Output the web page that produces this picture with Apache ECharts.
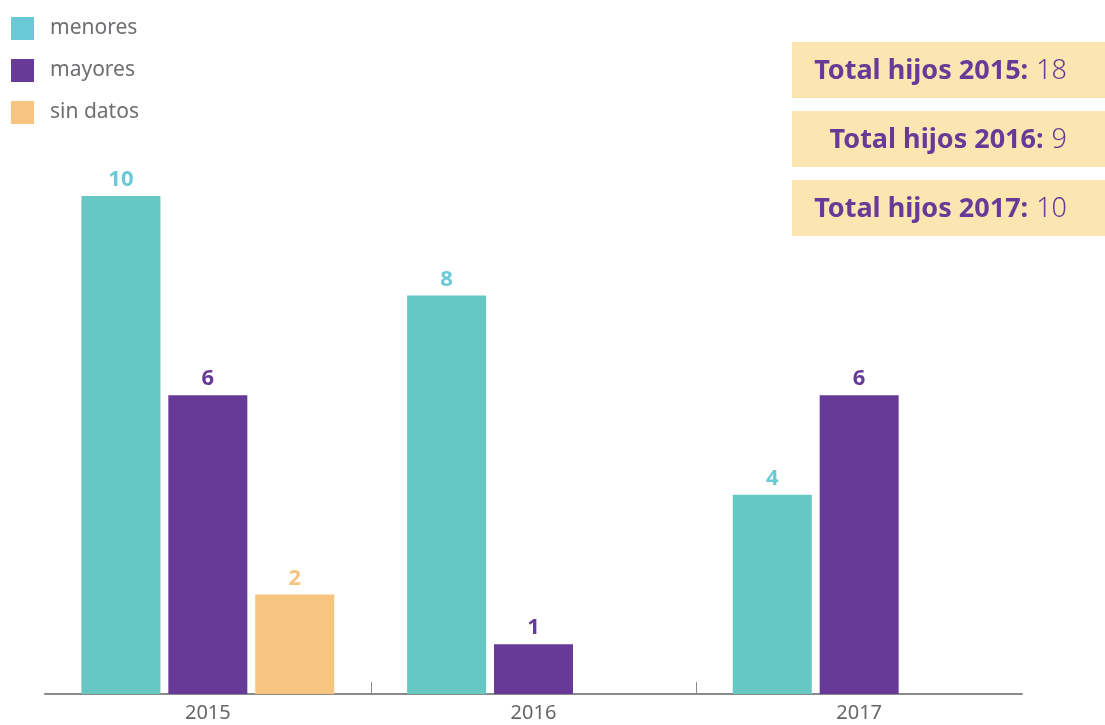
<!DOCTYPE html>
<html>
<head>
<meta charset="utf-8">
<script src="https://cdn.jsdelivr.net/npm/echarts@6/dist/echarts.min.js"></script>
<style>
  html, body { margin: 0; padding: 0; background: #ffffff; }
  #chart { width: 1105px; height: 725px; }
</style>
</head>
<body>
<div id="chart"></div>
<script>
// Hijos por año, según edad
const years = ['2015', '2016', '2017'];
const menores = [10, 8, 4];
const mayores = [6, 1, 6];
const sinDatos = [2, null, null];
const totals = [18, 9, 10];

const FONT = '"Noto Sans", "Open Sans", sans-serif';
const C_MEN = '#66C7C3';
const C_MEN_LABEL = '#6CC9D6';
const C_MAY = '#663A96';
const C_SIN = '#F8C580';
const C_BOX = '#FBE5B0';
const C_AXIS = '#8a8a8a';

const chart = echarts.init(document.getElementById('chart'));

function barSeries(name, data, color, labelColor) {
  return {
    name: name,
    type: 'bar',
    data: data,
    barWidth: 79,
    barGap: '10%',
    itemStyle: { color: color },
    label: {
      show: true,
      position: 'top',
      distance: 5,
      color: labelColor,
      fontFamily: FONT,
      fontWeight: 'bold',
      fontSize: 22
    }
  };
}

// Boxes with the yearly totals
const graphics = [];
totals.forEach((t, i) => {
  const top = 42 + i * 69;
  graphics.push({
    type: 'rect',
    shape: { x: 792, y: top, width: 320, height: 56 },
    style: { fill: C_BOX }
  });
  graphics.push({
    type: 'text',
    x: 1067,
    y: top + 29,
    style: {
      text: '{b|Total hijos ' + years[i] + ':}{s| }{n|' + t + '}',
      align: 'right',
      verticalAlign: 'middle',
      fill: C_MAY,
      rich: {
        b: { fontFamily: FONT, fontWeight: 'bold', fontSize: 27, fill: C_MAY },
        s: { fontFamily: FONT, fontSize: 18, fill: C_MAY, width: 8 },
        n: { fontFamily: FONT, fontWeight: 300, fontSize: 27, fill: C_MAY }
      }
    }
  });
});

chart.setOption({
  animation: false,
  backgroundColor: '#ffffff',
  legend: {
    orient: 'vertical',
    left: 11,
    top: 17,
    padding: 0,
    itemWidth: 23,
    itemHeight: 23,
    itemGap: 19,
    icon: 'rect',
    textStyle: { color: '#6d6e71', fontFamily: FONT, fontSize: 21, padding: [2, 0, 0, 11] },
    data: [
      { name: 'menores', itemStyle: { color: '#6BC8D5' } },
      { name: 'mayores' },
      { name: 'sin datos' }
    ]
  },
  grid: { left: 45, right: 83, top: 196, bottom: 31 },
  xAxis: {
    type: 'category',
    data: years,
    axisLine: { lineStyle: { color: C_AXIS, width: 2 } },
    axisTick: { show: false },
    axisLabel: { color: '#666666', fontFamily: FONT, fontSize: 20, margin: 9 }
  },
  yAxis: {
    type: 'value',
    min: 0,
    max: 10,
    show: false,
    splitLine: { show: false }
  },
  series: [
    barSeries('menores', menores, C_MEN, C_MEN_LABEL),
    barSeries('mayores', mayores, C_MAY, C_MAY),
    barSeries('sin datos', sinDatos, C_SIN, C_SIN)
  ],
  graphic: graphics
});

// Inner category separators only (no ticks at the axis ends)
const base = chart.convertToPixel({ yAxisIndex: 0 }, 0);
const ticks = [];
for (let i = 0; i < years.length - 1; i++) {
  const a = chart.convertToPixel({ xAxisIndex: 0 }, years[i]);
  const b = chart.convertToPixel({ xAxisIndex: 0 }, years[i + 1]);
  const x = Math.round((a + b) / 2) + 0.5;
  ticks.push({
    type: 'line',
    shape: { x1: x, y1: base - 12, x2: x, y2: base },
    style: { stroke: C_AXIS, lineWidth: 1 }
  });
}
chart.setOption({ graphic: graphics.concat(ticks) });
</script>
</body>
</html>
